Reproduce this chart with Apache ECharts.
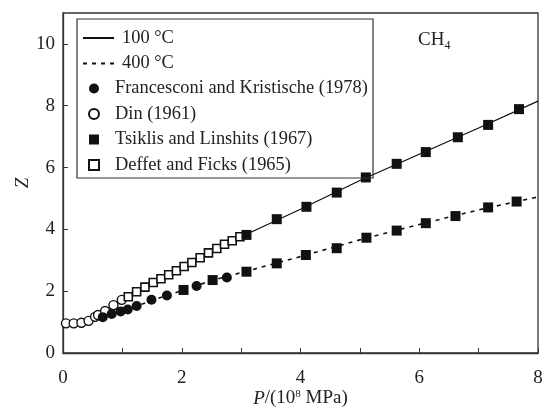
<!DOCTYPE html>
<html>
<head>
<meta charset="utf-8">
<script src="https://cdn.jsdelivr.net/npm/echarts@6/dist/echarts.min.js"></script>
<style>
  html, body { margin: 0; padding: 0; background: #fff; }
  #chart { width: 551px; height: 410px; }
</style>
</head>
<body>
<div id="chart"></div>
<script>
// isotherm curves
const line100P = [0, 0.2, 0.4, 0.6, 0.8, 1.0, 1.5, 2.0, 2.5, 3.0, 4.0, 5.0, 6.0, 7.0, 8.0]
const line100Z = [1.0, 0.97, 1.01, 1.22, 1.5, 1.74, 2.3, 2.8, 3.3, 3.76, 4.65, 5.58, 6.43, 7.28, 8.15]
const line400P = [0, 0.3, 0.5, 0.7, 1.0, 1.5, 2.0, 2.5, 3.0, 4.0, 5.0, 6.0, 7.0, 8.0]
const line400Z = [1.0, 1.01, 1.08, 1.18, 1.36, 1.7, 2.02, 2.34, 2.6, 3.12, 3.66, 4.16, 4.63, 5.05]

// measurement points
const francesconiP = [0.67, 0.82, 0.97, 1.09, 1.24, 1.49, 1.75, 2.25, 2.76]
const francesconiZ = [1.16, 1.26, 1.34, 1.41, 1.52, 1.72, 1.86, 2.17, 2.44]
const dinP = [0.05, 0.18, 0.31, 0.43, 0.54, 0.59, 0.71, 0.85, 0.99]
const dinZ = [0.96, 0.96, 0.98, 1.04, 1.17, 1.23, 1.36, 1.55, 1.72]
const tsiklis100P = [3.09, 3.60, 4.10, 4.61, 5.10, 5.62, 6.11, 6.65, 7.16, 7.68]
const tsiklis100Z = [3.82, 4.33, 4.73, 5.19, 5.68, 6.12, 6.50, 6.98, 7.38, 7.89]
const tsiklis400P = [2.03, 2.52, 3.09, 3.60, 4.09, 4.61, 5.11, 5.62, 6.11, 6.61, 7.16, 7.64]
const tsiklis400Z = [2.04, 2.36, 2.63, 2.90, 3.17, 3.39, 3.73, 3.96, 4.20, 4.43, 4.71, 4.90]
const deffetP = [1.10, 1.24, 1.38, 1.52, 1.65, 1.78, 1.91, 2.04, 2.17, 2.31, 2.45, 2.59, 2.72, 2.85, 2.98]
const deffetZ = [1.82, 1.98, 2.13, 2.28, 2.40, 2.53, 2.66, 2.80, 2.93, 3.08, 3.24, 3.38, 3.52, 3.63, 3.76]

const lineNames = ['100 °C', '400 °C']
const pointNames = ['Francesconi and Kristische (1978)', 'Din (1961)', 'Tsiklis and Linshits (1967)', 'Deffet and Ficks (1965)']

const FONT = 'Liberation Serif'
const INK = '#222'

function zip(xs, ys) {
  return xs.map((x, i) => [x, ys[i]])
}

const chart = echarts.init(document.getElementById('chart'))

chart.setOption({
  animation: false,
  grid: {
    left: 63, right: 13, top: 13, bottom: 57,
    outerBoundsMode: 'none',
    show: true, borderColor: '#333', borderWidth: 1.3,
  },
  xAxis: {
    type: 'value',
    min: 0,
    max: 8,
    interval: 2,
    name: '{i|P}/(10{s|8} MPa)',
    nameLocation: 'middle',
    nameGap: 36,
    nameMoveOverlap: false,
    nameTextStyle: {
      fontFamily: FONT, fontSize: 19, color: INK,
      rich: {
        i: { fontFamily: FONT, fontSize: 19, fontStyle: 'italic', color: INK },
        s: { fontFamily: FONT, fontSize: 11, color: INK, verticalAlign: 'top', lineHeight: 19 },
      },
    },
    axisLine: { lineStyle: { color: '#333', width: 1.3 } },
    axisTick: { inside: true, length: 5, lineStyle: { color: '#333' } },
    minorTick: { show: true, splitNumber: 2, length: 5, lineStyle: { color: '#333' } },
    splitLine: { show: false },
    axisLabel: { fontFamily: FONT, fontSize: 19, color: INK, margin: 16 },
  },
  yAxis: {
    type: 'value',
    min: 0,
    max: 11,
    interval: 2,
    name: 'Z',
    nameLocation: 'middle',
    nameGap: 31,
    nameMoveOverlap: false,
    nameTextStyle: { fontFamily: FONT, fontSize: 19, fontStyle: 'italic', color: INK },
    axisLine: { lineStyle: { color: '#333', width: 1.3 } },
    axisTick: { inside: true, length: 5, lineStyle: { color: '#333' } },
    splitLine: { show: false },
    axisLabel: { fontFamily: FONT, fontSize: 19, color: INK, margin: 8, showMaxLabel: false },
  },
  legend: [
    {
      data: lineNames,
      orient: 'vertical',
      left: 82,
      top: 28,
      padding: 0,
      itemWidth: 31,
      itemHeight: 14,
      itemGap: 5.5,
      selectedMode: false,
      itemStyle: { opacity: 0 },
      textStyle: { fontFamily: FONT, fontSize: 18.4, color: INK, lineHeight: 20, padding: [0, 0, 0, 3] },
    },
    {
      data: pointNames,
      orient: 'vertical',
      left: 88,
      top: 78.5,
      padding: 0,
      itemWidth: 10,
      itemHeight: 10,
      itemGap: 5.5,
      selectedMode: false,
      textStyle: { fontFamily: FONT, fontSize: 18.4, color: INK, lineHeight: 20, padding: [0, 0, 0, 11] },
    },
  ],
  graphic: [
    {
      type: 'rect',
      shape: { x: 77, y: 19, width: 296, height: 159 },
      style: { fill: 'none', stroke: '#333', lineWidth: 1.2 },
      z: 10,
    },
    {
      type: 'text',
      left: 418,
      top: 31,
      style: {
        text: 'CH{s|4}',
        fontFamily: FONT,
        fontSize: 19,
        fill: INK,
        rich: { s: { fontFamily: FONT, fontSize: 12, fill: INK, verticalAlign: 'bottom', lineHeight: 22 } },
      },
    },
  ],
  series: [
    {
      name: lineNames[0],
      type: 'line',
      data: zip(line100P, line100Z),
      symbol: 'none',
      itemStyle: { color: '#111' },
      lineStyle: { color: '#111', width: 1.3 },
      z: 2,
    },
    {
      name: lineNames[1],
      type: 'line',
      data: zip(line400P, line400Z),
      symbol: 'none',
      itemStyle: { color: '#111' },
      lineStyle: { color: '#111', width: 1.6, type: [4, 5] },
      z: 2,
    },
    {
      name: pointNames[0],
      type: 'scatter',
      data: zip(francesconiP, francesconiZ),
      symbol: 'circle',
      symbolSize: 10,
      itemStyle: { color: '#111', opacity: 1 },
      z: 4,
    },
    {
      name: pointNames[1],
      type: 'scatter',
      data: zip(dinP, dinZ),
      symbol: 'circle',
      symbolSize: 9,
      itemStyle: { color: '#fff', borderColor: '#111', borderWidth: 1.4, opacity: 1 },
      z: 3,
    },
    {
      name: pointNames[2],
      type: 'scatter',
      data: zip(tsiklis100P, tsiklis100Z).concat(zip(tsiklis400P, tsiklis400Z)),
      symbol: 'rect',
      symbolSize: 10,
      itemStyle: { color: '#111', opacity: 1 },
      z: 4,
    },
    {
      name: pointNames[3],
      type: 'scatter',
      data: zip(deffetP, deffetZ),
      symbol: 'rect',
      symbolSize: 8,
      itemStyle: { color: '#fff', borderColor: '#111', borderWidth: 1.6, opacity: 1 },
      z: 3,
    },
  ],
})
</script>
</body>
</html>
